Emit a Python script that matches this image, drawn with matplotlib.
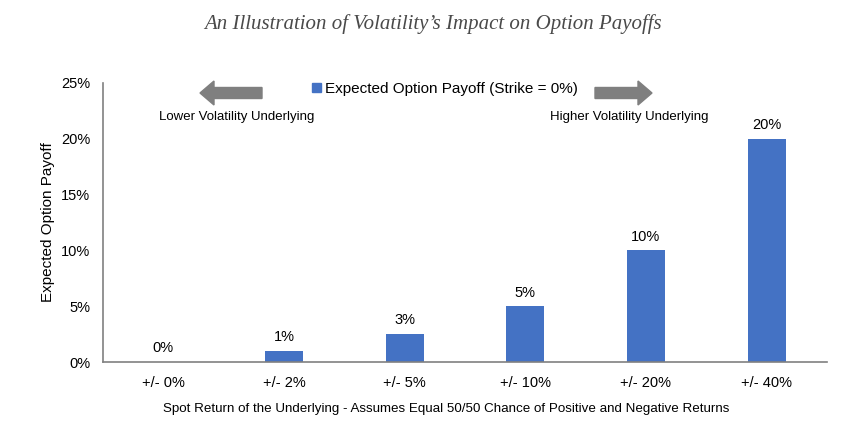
import numpy as np
import matplotlib.pyplot as plt
from matplotlib.patches import FancyArrow, Patch

# data
categories = ['+/- 0%', '+/- 2%', '+/- 5%', '+/- 10%', '+/- 20%', '+/- 40%']
payoff = [0.0, 1.0, 2.5, 5.0, 10.0, 20.0]          # percent
payoff_labels = ['0%', '1%', '3%', '5%', '10%', '20%']
yticks = [0, 5, 10, 15, 20, 25]

bar_color = '#4472C4'
spine_color = '#808080'
arrow_color = '#7F7F7F'

plt.rcParams['font.family'] = ['Liberation Sans', 'DejaVu Sans']

W, H = 860.0, 437.0
def fx(px):
    return px / W
def fy(py):
    return 1 - py / H

fig = plt.figure(figsize=(8.6, 4.37), dpi=100)
ax = fig.add_axes([fx(103), fy(362), (827 - 103) / W, (362 - 83) / H])

x = np.arange(len(categories))
ax.bar(x, payoff, width=0.315, color=bar_color, zorder=2)
for xi, v, lab in zip(x, payoff, payoff_labels):
    ax.text(xi, v + 0.6, lab, ha='center', va='bottom', fontsize=10.5, color='#000000')

ax.set_xlim(-0.5, len(categories) - 0.5)
ax.set_ylim(0, 25)
ax.set_yticks(yticks)
ax.set_yticklabels([f'{t}%' for t in yticks], fontsize=10.5)
ax.set_xticks(x)
ax.set_xticklabels(categories, fontsize=10.5)
ax.tick_params(axis='x', length=0, pad=10)
ax.tick_params(axis='y', length=0, pad=9)

for s in ['top', 'right']:
    ax.spines[s].set_visible(False)
for s in ['left', 'bottom']:
    ax.spines[s].set_color(spine_color)
    ax.spines[s].set_linewidth(1.2)

ax.set_ylabel('Expected Option Payoff', fontsize=11)
ax.yaxis.set_label_coords(fx(48), fy(222), transform=fig.transFigure)
ax.yaxis.label.set_va('center')

fig.text(fx(446), fy(409),
         'Spot Return of the Underlying - Assumes Equal 50/50 Chance of Positive and Negative Returns',
         ha='center', va='center', fontsize=9.6)

# legend
ax.legend(handles=[Patch(color=bar_color, label='Expected Option Payoff (Strike = 0%)')],
          loc='center', bbox_to_anchor=(fx(445), fy(89)),
          bbox_transform=fig.transFigure, frameon=False, fontsize=11,
          handlelength=0.6, handleheight=0.6, handletextpad=0.3)

# arrows (figure coordinates)
fig.patches.append(FancyArrow(fx(262), fy(93), fx(200) - fx(262), 0, width=11 / H,
                              head_width=24 / H, head_length=14 / W,
                              length_includes_head=True, color=arrow_color,
                              transform=fig.transFigure, figure=fig))
fig.patches.append(FancyArrow(fx(595), fy(93), fx(652) - fx(595), 0, width=11 / H,
                              head_width=24 / H, head_length=14 / W,
                              length_includes_head=True, color=arrow_color,
                              transform=fig.transFigure, figure=fig))

fig.text(fx(237), fy(117), 'Lower Volatility Underlying', ha='center', va='center', fontsize=9.5)
fig.text(fx(629), fy(117), 'Higher Volatility Underlying', ha='center', va='center', fontsize=9.5)

fig.text(fx(433), fy(24), 'An Illustration of Volatility\u2019s Impact on Option Payoffs',
         ha='center', va='center', fontsize=15, style='italic',
         family=['Liberation Serif', 'DejaVu Serif'], color='#4a4a4a')

fig.savefig('out.png', dpi=100)
